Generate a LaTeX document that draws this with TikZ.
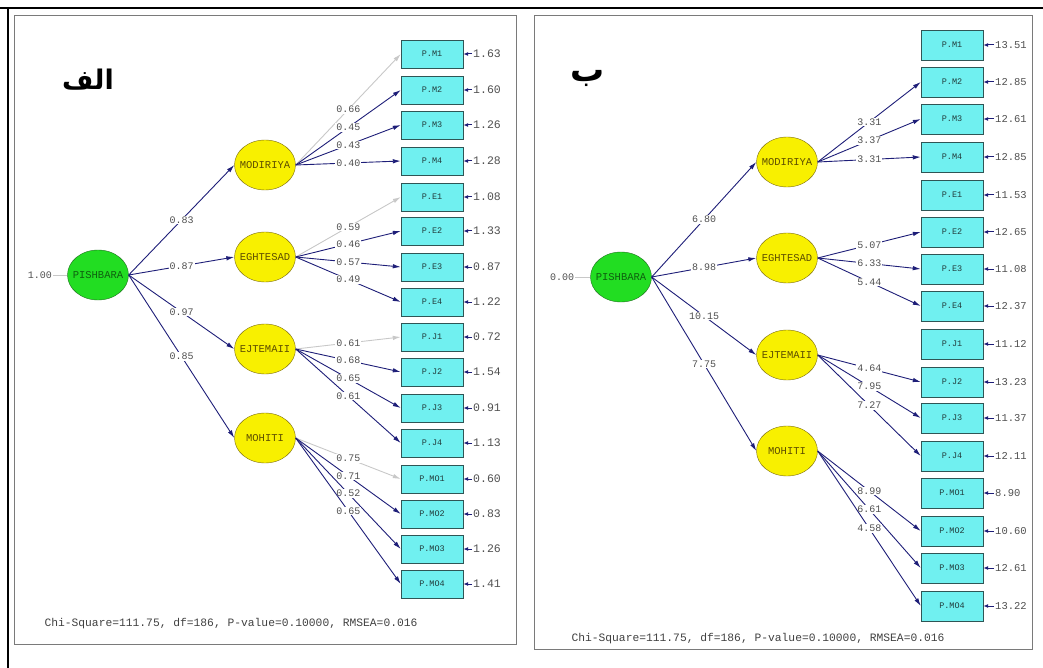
\documentclass[tikz,border=0pt]{standalone}
\usepackage{fontspec}
\setmonofont{Liberation Mono}
\newfontfamily\arabicfont[Script=Arabic]{DejaVu Sans}
\TeXXeTstate=1
\usepackage{xcolor}
\usepackage{tikz}
\usetikzlibrary{arrows.meta}
\usetikzlibrary{shapes.geometric}

\definecolor{navy}{HTML}{1E1E78}
\definecolor{lblgray}{HTML}{505050}
\definecolor{fixgray}{HTML}{C8C8C8}
\definecolor{boxcyan}{HTML}{70F0F0}
\definecolor{boxedge}{HTML}{2F5555}
\definecolor{latyellow}{HTML}{F8F000}
\definecolor{latedge}{HTML}{7A6A10}
\definecolor{lattext}{HTML}{5E4E00}
\definecolor{rootgreen}{HTML}{22DD22}
\definecolor{rootedge}{HTML}{1F6F1F}
\definecolor{roottext}{HTML}{0F600F}
\definecolor{framegray}{HTML}{7A7A7A}

\begin{document}
\begin{tikzpicture}[x=1pt,y=-1pt,
    latent/.style={ellipse,draw=latedge,fill=latyellow,text=lattext,minimum width=61pt,minimum height=50pt,inner sep=0pt,
        font=\ttfamily\fontsize{10.5}{10.5}\selectfont,execute at begin node=\hbox to 0pt\bgroup\hss,execute at end node=\hss\egroup},
    root/.style={latent,draw=rootedge,fill=rootgreen,text=roottext},
    indic/.style={rectangle,draw=boxedge,fill=boxcyan,minimum width=62pt,minimum height=28pt,inner sep=0pt,text=boxedge!70!black,font=\ttfamily\fontsize{8.5}{8.5}\selectfont},
    load/.style={draw=navy,line width=0.9pt,-{Latex[length=8pt,width=4.5pt]}},
    fixed/.style={load,draw=fixgray},
    lbl/.style={fill=white,inner sep=1pt,text=lblgray,font=\ttfamily\fontsize{10}{10}\selectfont},
    errval/.style={anchor=west,inner sep=1pt,text=lblgray,font=\ttfamily\fontsize{11.5}{11.5}\selectfont},
    erarrow/.style={draw=navy,line width=1pt,-{Latex[length=5pt,width=4pt]}},
    fitline/.style={text=lblgray!80!black,font=\ttfamily\fontsize{11.3}{11.3}\selectfont},
    title/.style={font=\arabicfont\bfseries\fontsize{27}{27}\selectfont}
]
    \useasboundingbox (0,0) rectangle (1043,668);

    % Cadres
    \draw[line width=2pt] (0,8) -- (1043,8);
    \draw[line width=2pt] (8,8) -- (8,668);
    \draw[framegray,line width=1pt] (14,16) rectangle (516,644);
    \draw[framegray,line width=1pt] (534,16) rectangle (1032,649);

    % Titres
    \node[title] (Ltitle) at (88,80) {\beginR الف\endR};
    \node[title,font=\arabicfont\bfseries\fontsize{34}{34}\selectfont] (Rtitle) at (588,78) {\beginR ب\endR};

    % ---- Modele de gauche (coefficients standardises)
    \node[root] (Lpish) at (98,275) {PISHBARA};
    \node[lbl] (Lvar) at (40,275) {1.00};
    \draw[fixgray,line width=0.8pt] (Lvar.east) -- (Lpish.west);

    \node[latent] (Lmod) at (265,165) {MODIRIYA};
    \node[latent] (Legh) at (265,257) {EGHTESAD};
    \node[latent] (Lejt) at (265,349) {EJTEMAII};
    \node[latent] (Lmoh) at (265,438) {MOHITI};

    % Indicateurs et variances d'erreur
    \foreach \nm/\lab/\y/\ev in {m1/P.M1/54/1.63, m2/P.M2/90/1.60, m3/P.M3/125/1.26, m4/P.M4/161/1.28,
        e1/P.E1/197/1.08, e2/P.E2/231/1.33, e3/P.E3/267/0.87, e4/P.E4/302/1.22,
        j1/P.J1/337/0.72, j2/P.J2/372/1.54, j3/P.J3/408/0.91, j4/P.J4/443/1.13,
        mo1/P.MO1/479/0.60, mo2/P.MO2/514/0.83, mo3/P.MO3/549/1.26, mo4/P.MO4/584/1.41} {
        \node[indic] (L\nm) at (432,\y) {\lab};
        \node[errval] (Le\nm) at (472,\y) {\ev};
        \draw[erarrow] (Le\nm.west) -- (L\nm.east);
    }

    % Chemins
    \foreach \f/\v in {mod/0.83, egh/0.87, ejt/0.97, moh/0.85}
        \draw[load] (Lpish.east) -- node[lbl] {\v} (L\f.west);
    \foreach \f/\b/\v in {mod/m1/0.66, egh/e1/0.59, ejt/j1/0.61, moh/mo1/0.75}
        \draw[fixed] (L\f.east) -- node[lbl] {\v} (L\b.west);
    \foreach \f/\b/\v in {mod/m2/0.45, mod/m3/0.43, mod/m4/0.40, egh/e2/0.46, egh/e3/0.57, egh/e4/0.49,
        ejt/j2/0.68, ejt/j3/0.65, ejt/j4/0.61, moh/mo2/0.71, moh/mo3/0.52, moh/mo4/0.65}
        \draw[load] (L\f.east) -- node[lbl] {\v} (L\b.west);

    \node[fitline] (Lfit) at (231,624) {Chi-Square=111.75, df=186, P-value=0.10000, RMSEA=0.016};

    % ---- Modele de droite (valeurs t)
    \node[root] (Rpish) at (621,277) {PISHBARA};
    \node[lbl] (Rvar) at (562,277) {0.00};
    \draw[fixgray,line width=0.8pt] (Rvar.east) -- (Rpish.west);

    \node[latent] (Rmod) at (787,162) {MODIRIYA};
    \node[latent] (Regh) at (787,258) {EGHTESAD};
    \node[latent] (Rejt) at (787,355) {EJTEMAII};
    \node[latent] (Rmoh) at (787,451) {MOHITI};

    \foreach \nm/\lab/\y/\ev in {m1/P.M1/45/13.51, m2/P.M2/82/12.85, m3/P.M3/119/12.61, m4/P.M4/157/12.85,
        e1/P.E1/195/11.53, e2/P.E2/232/12.65, e3/P.E3/269/11.08, e4/P.E4/306/12.37,
        j1/P.J1/344/11.12, j2/P.J2/382/13.23, j3/P.J3/418/11.37, j4/P.J4/456/12.11,
        mo1/P.MO1/493/8.90, mo2/P.MO2/531/10.60, mo3/P.MO3/568/12.61, mo4/P.MO4/606/13.22} {
        \node[indic,minimum height=30pt] (R\nm) at (952,\y) {\lab};
        \node[errval,font=\ttfamily\fontsize{10.5}{10.5}\selectfont] (Re\nm) at (994,\y) {\ev};
        \draw[erarrow] (Re\nm.west) -- (R\nm.east);
    }

    \foreach \f/\v in {mod/6.80, egh/8.98, ejt/10.15, moh/7.75}
        \draw[load] (Rpish.east) -- node[lbl] {\v} (R\f.west);
    \foreach \f/\b/\v in {mod/m2/3.31, mod/m3/3.37, mod/m4/3.31, egh/e2/5.07, egh/e3/6.33, egh/e4/5.44,
        ejt/j2/4.64, ejt/j3/7.95, ejt/j4/7.27, moh/mo2/8.99, moh/mo3/6.61, moh/mo4/4.58}
        \draw[load] (R\f.east) -- node[lbl] {\v} (R\b.west);

    \node[fitline] (Rfit) at (758,639) {Chi-Square=111.75, df=186, P-value=0.10000, RMSEA=0.016};
\end{tikzpicture}
\end{document}
